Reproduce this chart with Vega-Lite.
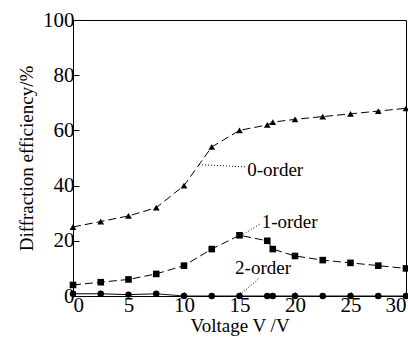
{
  "$schema": "https://vega.github.io/schema/vega-lite/v6.json",
  "width": 333,
  "height": 276,
  "autosize": {"type": "none"},
  "padding": {"left": 73, "top": 20, "right": 2, "bottom": 44},
  "background": "white",
  "config": {
    "view": {"stroke": "black", "strokeWidth": 1},
    "font": "Liberation Serif",
    "axis": {"grid": false, "domain": false, "labelFont": "Liberation Serif", "titleFont": "Liberation Serif", "labelColor": "black", "titleColor": "black", "tickColor": "black", "labelFontSize": 21, "titleFontSize": 19, "titleFontWeight": "normal"}
  },
  "datasets": {
    "curves": [
      {"V": 0, "eff": 25, "series": "0-order"},
      {"V": 2.5, "eff": 27, "series": "0-order"},
      {"V": 5, "eff": 29, "series": "0-order"},
      {"V": 7.5, "eff": 32, "series": "0-order"},
      {"V": 10, "eff": 40, "series": "0-order"},
      {"V": 12.5, "eff": 54, "series": "0-order"},
      {"V": 15, "eff": 60, "series": "0-order"},
      {"V": 17.5, "eff": 62, "series": "0-order"},
      {"V": 18, "eff": 63, "series": "0-order"},
      {"V": 20, "eff": 64, "series": "0-order"},
      {"V": 22.5, "eff": 65, "series": "0-order"},
      {"V": 25, "eff": 66, "series": "0-order"},
      {"V": 27.5, "eff": 67, "series": "0-order"},
      {"V": 30, "eff": 68, "series": "0-order"},
      {"V": 0, "eff": 4, "series": "1-order"},
      {"V": 2.5, "eff": 5, "series": "1-order"},
      {"V": 5, "eff": 6, "series": "1-order"},
      {"V": 7.5, "eff": 8, "series": "1-order"},
      {"V": 10, "eff": 11, "series": "1-order"},
      {"V": 12.5, "eff": 17, "series": "1-order"},
      {"V": 15, "eff": 22, "series": "1-order"},
      {"V": 17.5, "eff": 20, "series": "1-order"},
      {"V": 18, "eff": 17, "series": "1-order"},
      {"V": 20, "eff": 14.5, "series": "1-order"},
      {"V": 22.5, "eff": 13, "series": "1-order"},
      {"V": 25, "eff": 12, "series": "1-order"},
      {"V": 27.5, "eff": 11, "series": "1-order"},
      {"V": 30, "eff": 10, "series": "1-order"},
      {"V": 0, "eff": 0.8, "series": "2-order"},
      {"V": 2.5, "eff": 0.8, "series": "2-order"},
      {"V": 5, "eff": 0.5, "series": "2-order"},
      {"V": 7.5, "eff": 0.8, "series": "2-order"},
      {"V": 10, "eff": 0, "series": "2-order"},
      {"V": 12.5, "eff": 0, "series": "2-order"},
      {"V": 15, "eff": 0, "series": "2-order"},
      {"V": 17.5, "eff": 0, "series": "2-order"},
      {"V": 18, "eff": 0, "series": "2-order"},
      {"V": 20, "eff": 0, "series": "2-order"},
      {"V": 22.5, "eff": 0, "series": "2-order"},
      {"V": 25, "eff": 0, "series": "2-order"},
      {"V": 27.5, "eff": 0, "series": "2-order"},
      {"V": 30, "eff": 0, "series": "2-order"}
    ],
    "labels": [
      {"x": 15.7, "y": 45.7, "x1": 11.35, "y1": 47.6, "x2": 15.5, "y2": 46.8, "label": "0-order"},
      {"x": 17.0, "y": 26.8, "x1": 15.1, "y1": 21.8, "x2": 16.9, "y2": 26.2, "label": "1-order"},
      {"x": 14.6, "y": 10.1, "x1": 15.0, "y1": 0.3, "x2": 16.7, "y2": 6.2, "label": "2-order"}
    ]
  },
  "layer": [
    {
      "data": {"name": "curves"},
      "mark": {"type": "line", "color": "black"},
      "encoding": {
        "x": {"field": "V", "type": "quantitative", "scale": {"domain": [0, 30], "nice": false}, "axis": {"title": "Voltage V /V", "labelFont": "serif", "titleFont": "serif", "values": [0, 5, 10, 15, 20, 25, 30], "tickSize": -4, "labelPadding": 2, "titlePadding": 1}},
        "y": {"field": "eff", "type": "quantitative", "scale": {"domain": [0, 100], "nice": false}, "axis": {"title": "Diffraction efficiency/%", "labelFont": "Times", "titleFont": "Times", "values": [0, 10, 20, 30, 40, 50, 60, 70, 80, 90, 100], "labelExpr": "datum.value % 20 == 0 ? datum.label : ''", "tickSize": -6, "labelPadding": 5, "titlePadding": 6}},
        "detail": {"field": "series"},
        "strokeDash": {"field": "series", "type": "nominal", "scale": {"domain": ["0-order", "1-order", "2-order"], "range": [[8, 4], [8, 4], [1, 0]]}, "legend": null},
        "strokeWidth": {"field": "series", "type": "nominal", "scale": {"domain": ["0-order", "1-order", "2-order"], "range": [1, 1, 1.6]}, "legend": null}
      }
    },
    {
      "data": {"name": "curves"},
      "mark": {"type": "point", "filled": true, "color": "black", "opacity": 1},
      "encoding": {
        "x": {"field": "V", "type": "quantitative"},
        "y": {"field": "eff", "type": "quantitative"},
        "shape": {"field": "series", "type": "nominal", "scale": {"domain": ["0-order", "1-order", "2-order"], "range": ["triangle-up", "square", "circle"]}, "legend": null},
        "size": {"field": "series", "type": "nominal", "scale": {"domain": ["0-order", "1-order", "2-order"], "range": [45, 42, 50]}, "legend": null}
      }
    },
    {
      "data": {"name": "labels"},
      "mark": {"type": "rule", "color": "black", "strokeDash": [1, 2], "strokeWidth": 1},
      "encoding": {
        "x": {"field": "x1", "type": "quantitative"},
        "y": {"field": "y1", "type": "quantitative"},
        "x2": {"field": "x2"},
        "y2": {"field": "y2"}
      }
    },
    {
      "data": {"name": "labels"},
      "mark": {"type": "text", "align": "left", "baseline": "middle", "fontSize": 19, "font": "Liberation Serif", "color": "black"},
      "encoding": {
        "x": {"field": "x", "type": "quantitative"},
        "y": {"field": "y", "type": "quantitative"},
        "text": {"field": "label"}
      }
    }
  ]
}
